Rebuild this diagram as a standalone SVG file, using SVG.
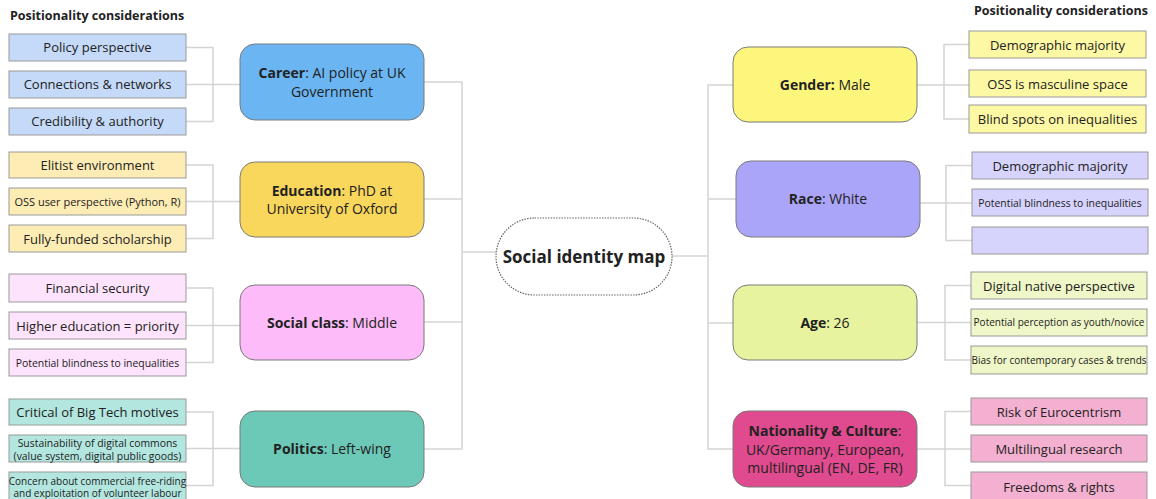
<svg xmlns="http://www.w3.org/2000/svg" width="1156" height="499" viewBox="0 0 1156 499">
  <style>
    text { font-family: "Open Sans", "Noto Sans", "Liberation Sans", sans-serif; fill: #222; text-anchor: middle; }
    .title { font-size: 12.5px; font-weight: 700; text-anchor: start; }
    .title-r { font-size: 12.5px; font-weight: 700; text-anchor: end; }
    .main { font-size: 14px; }
    .leaf { font-size: 13px; }
    .sm { font-size: 11px; }
    .s2 { font-size: 10.4px; }
    .xs { font-size: 10px; }
    .b { font-weight: 700; }
    .box { stroke: #9a9a9a; stroke-width: 1; }
    .node { stroke: #7a7a7a; stroke-width: 1; }
    .conn { fill: none; stroke: #d4d4d4; stroke-width: 1.5; }
  </style>

  <!-- section headings -->
  <text class="title" x="10" y="20">Positionality considerations</text>
  <text class="title-r" x="1148" y="15">Positionality considerations</text>

  <!-- connectors -->
  <g id="connectors" class="conn">
    <!-- spine, left side -->
    <path d="M424 82 H462 V449 H424"/>
    <path d="M462 199 H424"/>
    <path d="M462 322 H424"/>
    <path d="M462 252 H496"/>
    <!-- spine, right side -->
    <path d="M733 85 H708 V449 H733"/>
    <path d="M708 199 H736"/>
    <path d="M708 323 H733"/>
    <path d="M672 256 H708"/>
    <!-- left brackets -->
    <path d="M186 47.5 H213 V121.5 H186 M186 84.5 H240"/>
    <path d="M186 165 H213 V238.5 H186 M186 201.5 H240"/>
    <path d="M186 288 H213 V362.5 H186 M186 325.5 H240"/>
    <path d="M186 412 H213 V485.5 H186 M186 448.5 H240"/>
    <!-- right brackets -->
    <path d="M969 44.5 H944 V119 H969 M917 85 H969"/>
    <path d="M972 165.5 H946 V240.5 H972 M920 203 H972"/>
    <path d="M971 285.5 H945 V360 H971 M917 322.5 H971"/>
    <path d="M971 411.5 H945 V485.5 H971 M917 449 H971"/>
  </g>

  <!-- centre -->
  <g id="center">
    <rect x="496" y="218" width="176" height="77" rx="38.5" fill="#fff" stroke="#666" stroke-width="1.2" stroke-dasharray="1.5 1.2"/>
    <text x="584" y="263" style="font-size:17px;font-weight:700">Social identity map</text>
  </g>

  <!-- Career -->
  <g id="career">
    <rect class="node" x="240" y="44" width="184" height="76" rx="15" fill="#6bb6f2"/>
    <text class="main" x="332" y="78"><tspan class="b">Career</tspan>: AI policy at UK</text>
    <text class="main" x="332" y="97">Government</text>
  </g>
  <g id="career-leaves">
    <rect class="box" x="9" y="34" width="177" height="27" fill="#c5daf8"/>
    <text class="leaf" x="97.5" y="52">Policy perspective</text>
    <rect class="box" x="9" y="71" width="177" height="27" fill="#c5daf8"/>
    <text class="leaf" x="97.5" y="89">Connections &amp; networks</text>
    <rect class="box" x="9" y="108" width="177" height="27" fill="#c5daf8"/>
    <text class="leaf" x="97.5" y="126">Credibility &amp; authority</text>
  </g>

  <!-- Education -->
  <g id="education">
    <rect class="node" x="240" y="162" width="184" height="75" rx="15" fill="#f9d65c"/>
    <text class="main" x="332" y="196"><tspan class="b">Education</tspan>: PhD at</text>
    <text class="main" x="332" y="214">University of Oxford</text>
  </g>
  <g id="education-leaves">
    <rect class="box" x="9" y="152" width="177" height="26" fill="#fdecb4"/>
    <text class="leaf" x="97.5" y="170">Elitist environment</text>
    <rect class="box" x="9" y="188" width="177" height="27" fill="#fdecb4"/>
    <text class="sm" x="97.5" y="205.5">OSS user perspective (Python, R)</text>
    <rect class="box" x="9" y="225" width="177" height="27" fill="#fdecb4"/>
    <text class="leaf" x="97.5" y="244">Fully-funded scholarship</text>
  </g>

  <!-- Social class -->
  <g id="social-class">
    <rect class="node" x="240" y="285" width="184" height="75" rx="15" fill="#fdbcf9"/>
    <text class="main" x="332" y="328"><tspan class="b">Social class</tspan>: Middle</text>
  </g>
  <g id="social-class-leaves">
    <rect class="box" x="9" y="274" width="177" height="28" fill="#fde3fc"/>
    <text class="leaf" x="97.5" y="293">Financial security</text>
    <rect class="box" x="9" y="312" width="177" height="27" fill="#fde3fc"/>
    <text class="leaf" x="97.5" y="330.5">Higher education = priority</text>
    <rect class="box" x="9" y="349" width="177" height="27" fill="#fde3fc"/>
    <text class="s2" x="97.5" y="366.5">Potential blindness to inequalities</text>
  </g>

  <!-- Politics -->
  <g id="politics">
    <rect class="node" x="240" y="411" width="184" height="76" rx="15" fill="#6dc9b7"/>
    <text class="main" x="332" y="454"><tspan class="b">Politics</tspan>: Left-wing</text>
  </g>
  <g id="politics-leaves">
    <rect class="box" x="9" y="399" width="177" height="26" fill="#b2e6de"/>
    <text class="leaf" x="97.5" y="417">Critical of Big Tech motives</text>
    <rect class="box" x="9" y="435" width="177" height="27" fill="#b2e6de"/>
    <text class="s2" x="97.5" y="447">Sustainability of digital commons</text>
    <text class="s2" x="97.5" y="460">(value system, digital public goods)</text>
    <rect class="box" x="9" y="472" width="177" height="32" fill="#b2e6de"/>
    <text class="xs" x="97.5" y="484.5">Concern about commercial free-riding</text>
    <text class="xs" x="97.5" y="497">and exploitation of volunteer labour</text>
  </g>

  <!-- Gender -->
  <g id="gender">
    <rect class="node" x="733" y="47" width="184" height="75" rx="15" fill="#fdf67d"/>
    <text class="main" x="825" y="90"><tspan class="b">Gender:</tspan> Male</text>
  </g>
  <g id="gender-leaves">
    <rect class="box" x="969" y="31" width="177" height="27" fill="#fdf8a4"/>
    <text class="leaf" x="1057.5" y="49.5">Demographic majority</text>
    <rect class="box" x="969" y="70" width="177" height="27" fill="#fdf8a4"/>
    <text class="leaf" x="1057.5" y="88.5">OSS is masculine space</text>
    <rect class="box" x="969" y="105" width="177" height="28" fill="#fdf8a4"/>
    <text class="leaf" x="1057.5" y="124">Blind spots on inequalities</text>
  </g>

  <!-- Race -->
  <g id="race">
    <rect class="node" x="736" y="161" width="184" height="76" rx="15" fill="#aba5f9"/>
    <text class="main" x="828" y="204"><tspan class="b">Race</tspan>: White</text>
  </g>
  <g id="race-leaves">
    <rect class="box" x="972" y="152" width="176" height="27" fill="#d6d3fc"/>
    <text class="leaf" x="1060" y="170.5">Demographic majority</text>
    <rect class="box" x="972" y="189" width="176" height="27" fill="#d6d3fc"/>
    <text class="s2" x="1060" y="206.5">Potential blindness to inequalities</text>
    <rect class="box" x="972" y="227" width="176" height="27" fill="#d6d3fc"/>
  </g>

  <!-- Age -->
  <g id="age">
    <rect class="node" x="733" y="285" width="184" height="75" rx="15" fill="#e8f3a0"/>
    <text class="main" x="825" y="328"><tspan class="b">Age</tspan>: 26</text>
  </g>
  <g id="age-leaves">
    <rect class="box" x="971" y="272" width="176" height="27" fill="#eff6c7"/>
    <text class="leaf" x="1059" y="290.5">Digital native perspective</text>
    <rect class="box" x="971" y="309" width="176" height="27" fill="#eff6c7"/>
    <text class="xs" x="1059" y="326">Potential perception as youth/novice</text>
    <rect class="box" x="971" y="346" width="176" height="28" fill="#eff6c7"/>
    <text class="xs" x="1059" y="363.5">Bias for contemporary cases &amp; trends</text>
  </g>

  <!-- Nationality & Culture -->
  <g id="nationality">
    <rect class="node" x="733" y="411" width="184" height="76" rx="15" fill="#e04a8e"/>
    <text class="main" x="825" y="436"><tspan class="b">Nationality &amp; Culture</tspan>:</text>
    <text class="main" x="825" y="455">UK/Germany, European,</text>
    <text class="main" x="825" y="473">multilingual (EN, DE, FR)</text>
  </g>
  <g id="nationality-leaves">
    <rect class="box" x="971" y="398" width="176" height="27" fill="#f3b0d0"/>
    <text class="leaf" x="1059" y="416.5">Risk of Eurocentrism</text>
    <rect class="box" x="971" y="435" width="176" height="27" fill="#f3b0d0"/>
    <text class="leaf" x="1059" y="453.5">Multilingual research</text>
    <rect class="box" x="971" y="472" width="176" height="32" fill="#f3b0d0"/>
    <text class="leaf" x="1059" y="491.5">Freedoms &amp; rights</text>
  </g>
</svg>
